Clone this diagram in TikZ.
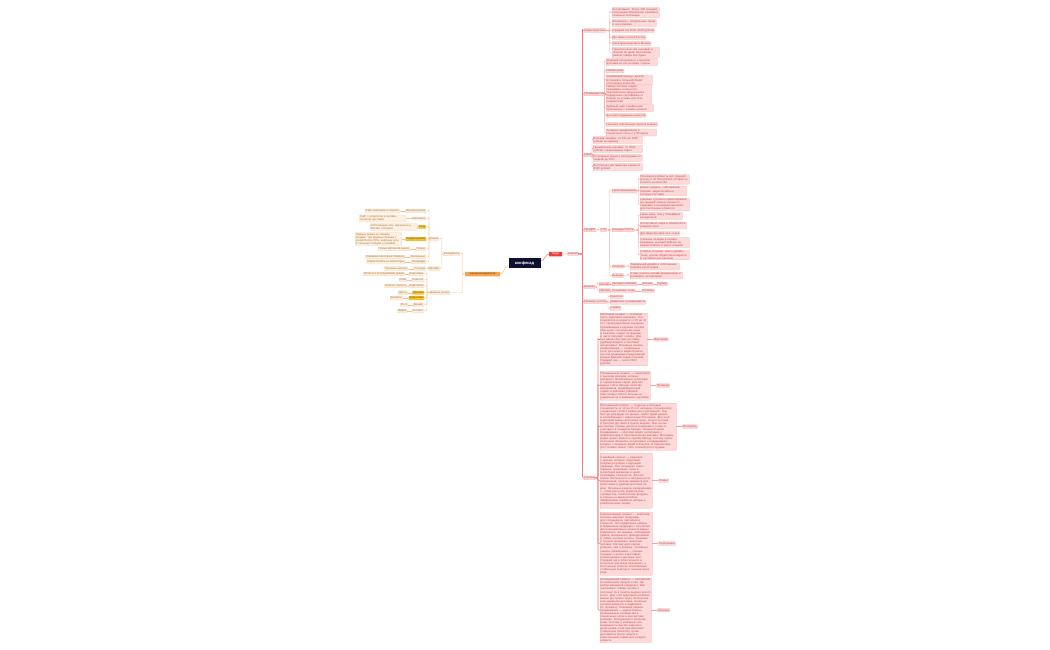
\documentclass[tikz,border=0pt]{standalone}
\usepackage{fontspec}
\setmainfont{Liberation Sans}
\usetikzlibrary{calc}
\definecolor{cRfill}{HTML}{FCDADA}
\definecolor{cRdraw}{HTML}{F2AAAA}
\definecolor{cRtext}{HTML}{C8484A}
\definecolor{cRline}{HTML}{F3A3A3}
\definecolor{cRtrunk}{HTML}{EE7B7B}
\definecolor{cLfill}{HTML}{FDF0E1}
\definecolor{cLdraw}{HTML}{F3CFA8}
\definecolor{cLtext}{HTML}{A8743F}
\definecolor{cLline}{HTML}{F0C491}
\definecolor{cGfill}{HTML}{F7C433}
\definecolor{cGdraw}{HTML}{ECB020}
\definecolor{cGtext}{HTML}{7A4E0E}
\definecolor{cCenter}{HTML}{0E1030}
\definecolor{cOrange}{HTML}{F6A54F}
\definecolor{cOtext}{HTML}{5A3312}
\definecolor{cRed}{HTML}{F23D3D}
\newcommand\rlink[3][2]{\draw[rl] (#2.east) -| ($(#3.west)+(-#1,0)$) |- (#3.west);}
\newcommand\tlink[3][2]{\draw[rt] (#2.east) -| ($(#3.west)+(-#1,0)$) |- (#3.west);}
\newcommand\llink[3][2]{\draw[ll] (#2.west) -| ($(#3.east)+(#1,0)$) |- (#3.east);}
\begin{document}
\begin{tikzpicture}[x=1pt,y=-1pt,
 base/.style={inner sep=0.6pt, rounded corners=0.4pt, line width=0.25pt, font=\fontsize{2.8}{3.05}\selectfont},
 rn/.style={base, fill=cRfill, draw=cRdraw, text=cRtext},
 rb/.style={rn, text width=#1pt, align=left},
 ln/.style={base, fill=cLfill, draw=cLdraw, text=cLtext},
 lb/.style={ln, text width=#1pt, align=left},
 gn/.style={base, fill=cGfill, draw=cGdraw, text=cGtext},
 rl/.style={draw=cRline, line width=0.4pt, rounded corners=1pt},
 rt/.style={draw=cRtrunk, line width=0.6pt, rounded corners=1pt},
 ll/.style={draw=cLline, line width=0.4pt, rounded corners=1pt}]
\fill[white] (0,0) rectangle (1050,650);
\useasboundingbox (0,0) rectangle (1050,650);

% ---- centre ----
\node[fill=cCenter, text=white, font=\fontsize{4}{5}\selectfont\bfseries, minimum width=32pt, minimum height=10pt, inner sep=0.5pt] (cen) at (524.5,263) {конфесад};
\node[fill=cOrange, text=cOtext, font=\fontsize{2.8}{3}\selectfont, minimum width=35pt, minimum height=4.5pt, inner sep=0.5pt, rounded corners=0.4pt] (orn) at (482.5,274) {оценка конкурентов};
\node[fill=cRed, text=white, font=\fontsize{2.8}{3}\selectfont, minimum width=13pt, minimum height=4.5pt, inner sep=0.5pt, rounded corners=0.4pt] (tgt) at (555.5,254) {Target};
\node[rn, anchor=west] (an) at (567.5,253.8) {Анализ};

% ---- left side ----
\node[ln, anchor=east] (la) at (460,254) {Конкуренты};
\node[ln, anchor=east] (lb) at (450,292.7) {Данные рынка};
\node[ln, anchor=east] (la1) at (439,239) {Рынок};
\node[ln, anchor=east] (la2) at (440,268.7) {Офлайн};

\node[ln,anchor=east] (r1) at (426,211) {Бренды рынка};
\node[ln,anchor=east] (r2) at (426,218.5) {Магазины};
\node[gn,anchor=east] (r3) at (426,227) {Сеть};
\node[gn,anchor=east] (r4) at (426,239) {Лидеры рынка};
\node[ln,anchor=east] (r5) at (426,249) {Новые};
\node[ln,anchor=east] (r6) at (426,257) {Косвенные};
\node[ln,anchor=east] (r7) at (426,262) {Площадки};
\node[ln,anchor=east] (r8) at (426,268.7) {Розница};
\node[ln,anchor=east] (q1) at (424,274) {Аналитика};
\node[ln,anchor=east] (q2) at (424,280) {Новости};
\node[ln,anchor=east] (q3) at (424,286) {Аудитория};
\node[gn,anchor=east] (q4) at (424,292.7) {Логотип};
\node[gn,anchor=east] (q5) at (424,298) {Айдентика};
\node[ln,anchor=east] (q6) at (424,304.7) {Дизайн};
\node[ln,anchor=east] (q7) at (424,311) {Контент};

\node[ln,anchor=east] (r1t) at ([xshift=-6pt]r1.west) {Сайт компании и соцсети};
\node[lb=45,anchor=east] (r2t) at ([xshift=-6pt]r2.west) {Сайт с каталогом и онлайн-оплатой, доставка};
\node[lb=46,anchor=east] (r3t) at ([xshift=-1pt]r3.west) {Собственная сеть магазинов в Москве и Казани};
\node[lb=45,anchor=east] (r4t) at ([xshift=-4pt]r4.west) {Лидеры рынка по объёму продаж: три крупных бренда с долей более 60\%, широкая сеть и сильные позиции в онлайне};
\node[ln,anchor=east] (r5t) at ([xshift=-6pt]r5.west) {Новые игроки на рынке};
\node[ln,anchor=east] (r6t) at ([xshift=-6pt]r6.west) {Смежные категории товаров};
\node[ln,anchor=east] (r7t) at ([xshift=-6pt]r7.west) {Маркетплейсы и агрегаторы};
\node[ln,anchor=east] (r8t) at ([xshift=-6pt]r8.west) {Торговые центры};
\node[ln,anchor=east] (q1t) at ([xshift=-4pt]q1.west) {Отчёты и исследования рынка};
\node[ln,anchor=east] (q2t) at ([xshift=-5pt]q2.west) {СМИ};
\node[ln,anchor=east] (q3t) at ([xshift=-2pt]q3.west) {Анкеты, опросы};
\node[ln,anchor=east] (q4t) at ([xshift=-5pt]q4.west) {Цвета};
\node[ln,anchor=east] (q5t) at ([xshift=-6pt]q5.west) {Шрифты};
\node[ln,anchor=east] (q6t) at ([xshift=-5pt]q6.west) {Фото};
\node[ln,anchor=east] (q7t) at ([xshift=-5pt]q7.west) {Видео};

% ---- right side : level 1 ----
\node[rn,anchor=west] (ch) at (584,30.5) {Характеристики};
\node[rn,anchor=west] (pr) at (584,94) {Преимущества};
\node[rn,anchor=west] (ce) at (584,155) {Цена};
\node[rn,anchor=west] (pd) at (584,230) {Продукт};
\node[rn,anchor=west] (ka) at (584,287) {Каналы};
\node[rn,anchor=west] (pu) at (584,301.7) {Причины успеха};

% Характеристики
\node[rb=46,anchor=west] (ch1) at (612,12.5) {Ассортимент: более 200 позиций, постоянное обновление линейки и сезонные коллекции};
\node[rb=43,anchor=west] (ch2) at (612,23) {Материалы: натуральные ткани и эко-упаковка};
\node[rn,anchor=west] (ch3) at (612,30.5) {Средний чек 2500–3000 рублей};
\node[rn,anchor=west] (ch4) at (612,37.5) {Доставка по всей России};
\node[rn,anchor=west] (ch5) at (612,43.5) {Своё производство в Москве};
\node[rb=46,anchor=west] (ch6) at (612,52.5) {Гарантия качества и возврат в течение 30 дней, бесплатная замена товара при браке};

% Преимущества
\node[rb=50,anchor=west] (p1) at (606,62) {Широкий ассортимент и быстрая доставка во все регионы страны};
\node[rn,anchor=west] (p2) at (606,71) {Низкие цены};
\node[rb=45,anchor=west] (p3) at (606,80) {Узнаваемый бренд с долгой историей и большой базой постоянных клиентов};
\node[rb=44,anchor=west] (p4) at (606,94.5) {Гибкая система скидок, программа лояльности, персональные предложения, подарочные сертификаты и бонусы за отзывы для всех покупателей};
\node[rb=46,anchor=west] (p5) at (606,108) {Удобный сайт и мобильное приложение с онлайн-оплатой};
\node[rn,anchor=west] (p6) at (606,115.5) {Быстрая поддержка клиентов};
\node[rn,anchor=west] (p7) at (606,124.5) {Наличие собственных пунктов выдачи};
\node[rb=49,anchor=west] (p8) at (606,132.5) {Активное продвижение в социальных сетях и у блогеров};

% Цена
\node[rb=48,anchor=west] (e1) at (593,140) {Базовая линейка: от 990 до 1990 рублей за единицу};
\node[rb=48,anchor=west] (e2) at (593,149) {Премиальная линейка: от 3500 рублей, ограниченные серии};
\node[rb=48,anchor=west] (e3) at (593,158) {Регулярные акции и распродажи со скидкой до 50\%};
\node[rb=48,anchor=west] (e4) at (593,167) {Бесплатная доставка при заказе от 3000 рублей};

% Продукт
\node[rn,anchor=west] (ut) at (600,230) {УТП};
\node[rn,anchor=west] (z0) at (612,191) {Ценообразование};
\node[rn,anchor=west] (k0) at (612,230) {Конкурентность};
\node[rn,anchor=west] (o0) at (612,266.5) {Отличия};
\node[rn,anchor=west] (w0) at (612,275.5) {Выводы};
\node[rb=48,anchor=west] (z1) at (640,179.5) {Платежеспособность ЦА: средний доход от 40 000 рублей, готовность платить за качество};
\node[rb=45,anchor=west] (z2) at (640,191) {Бизнес-модель: собственный магазин, маркетплейсы и оптовые поставки};
\node[rb=48,anchor=west] (z3) at (640,204.5) {Ценовая стратегия ориентирована на средний сегмент рынка со скидками и спецпредложениями для постоянных клиентов};
\node[rb=41,anchor=west] (k1) at (640,216) {Цены ниже, чем у ближайших конкурентов};
\node[rb=45,anchor=west] (k2) at (640,225.5) {Ассортимент шире и обновляется каждый сезон};
\node[rn,anchor=west] (k3) at (640,233.5) {Доставка быстрее на 1–2 дня};
\node[rb=48,anchor=west] (k4) at (640,242.5) {Сильные позиции в онлайн-продажах, высокий рейтинг на маркетплейсах и много отзывов};
\node[rb=48,anchor=west] (k5) at (640,255) {Слабые стороны: мало офлайн-точек, долгая обработка возвратов и нестабильное наличие};
\node[rb=48,anchor=west] (o1) at (630,266.5) {Уникальный дизайн и собственная линейка аксессуаров};
\node[rb=51,anchor=west] (w1) at (630,275.5) {Стоит усилить онлайн-продвижение и расширить ассортимент};

% Каналы
\node[rn,anchor=west] (c1) at (599,284) {Онлайн};
\node[rn,anchor=west] (c1b) at (612,284) {Интернет-магазин};
\node[rn,anchor=west] (c1c) at (642,284) {Москва};
\node[rn,anchor=west] (c1d) at (657,284) {Курьер};
\node[rn,anchor=west] (c2) at (599,290.7) {Офлайн};
\node[rn,anchor=west] (c2b) at (612,290.7) {Розничные точки};
\node[rn,anchor=west] (c2c) at (642,290.7) {Регионы};

% Причины успеха
\node[rn,anchor=west] (u1) at (610,296.7) {Качество};
\node[rn,anchor=west] (u2) at (610,302.3) {Маркетинг и узнаваемость};
\node[rn,anchor=west] (u3) at (610,308.3) {Сервис};

% Сегменты
\node[rb=46,anchor=north west,minimum height=50pt] (b1) at (600,313) {Массовый сегмент — основная часть аудитории компании. Это покупатели в возрасте от 25 до 45 лет, преимущественно женщины, проживающие в крупных городах. Они ценят соотношение цены и качества, следят за акциями и часто покупают онлайн. Для них важны быстрая доставка, удобный возврат и понятный ассортимент. Основные каналы коммуникации — социальные сети, рассылки и маркетплейсы, где они сравнивают предложения разных брендов перед покупкой. Средний чек — около 2500 рублей.};
\node[rb=49,anchor=north west,minimum height=29pt] (b2) at (600,371) {Премиальный сегмент — покупатели с высоким доходом, которые выбирают эксклюзивные коллекции и ограниченные серии. Для них важны статус бренда, качество материалов, индивидуальный сервис и красивая упаковка. Они готовы платить больше за уникальность и внимание к деталям.};
\node[rb=75,anchor=north west,minimum height=47pt] (b3) at (600,403) {Молодёжный сегмент — студенты и молодые специалисты от 18 до 25 лет, активные пользователи социальных сетей и мобильных приложений. Они быстро реагируют на тренды, любят яркий дизайн и коллаборации с известными блогерами. Для этой аудитории важны доступные цены, оплата частями и быстрая доставка в пункты выдачи. Они охотно оставляют отзывы, делятся покупками в сторис и участвуют в конкурсах бренда. Основной канал продвижения — короткие видео, интеграции у инфлюенсеров и таргетированная реклама. Молодёжь редко хранит верность одному бренду, поэтому нужно постоянно обновлять ассортимент и поддерживать интерес с помощью акций и бонусов. В перспективе этот сегмент может стать основой роста продаж.};
\node[rb=51,anchor=north west,minimum height=55pt] (b4) at (600,453) {Семейный сегмент — родители с детьми, которые совершают покупки регулярно и крупными заказами. Они планируют траты заранее, сравнивают цены в нескольких магазинах и ценят программы лояльности. Для них важны безопасность и натуральность материалов, наличие размеров для всей семьи и удобная доставка на дом. Основные каналы коммуникации — email-рассылки, родительские сообщества, тематические форумы и отзывы на маркетплейсах. Эффективны семейные наборы и накопительные скидки.};
\node[rb=51,anchor=north west,minimum height=63pt] (b5) at (600,512) {Корпоративный сегмент — компании, которые закупают продукцию для сотрудников, партнёров и клиентов. Это подарочные наборы и фирменная продукция с логотипом. Для корпоративных клиентов важны надёжность поставщика, соблюдение сроков, возможность брендирования и гибкие условия оплаты. Решение о покупке принимает несколько человек, поэтому цикл сделки длиннее, чем в рознице. Основные каналы привлечения — личные продажи, участие в выставках, рекомендации и деловые сети. Средний чек в этом сегменте в несколько раз выше розничного, а постоянные клиенты обеспечивают стабильную выручку в течение всего года.};
\node[rb=50,anchor=north west,minimum height=63pt] (b6) at (600,578) {Региональный сегмент — покупатели из небольших городов и сёл, где выбор магазинов ограничен. Они заказывают товары онлайн и получают их в пунктах выдачи или по почте. Для этой аудитории особенно важны доступные цены, бесплатная или недорогая доставка, понятные условия возврата и поддержка по телефону. Основные каналы продвижения — маркетплейсы, региональные сообщества в социальных сетях и контекстная реклама. Конкуренция в регионах ниже, поэтому у компании есть возможность быстро нарастить долю рынка, если она обеспечит стабильную логистику, сроки доставки не более недели и качественный сервис для каждого клиента.};
\coordinate (sm) at ($(b1.north west)!0.5!(b6.south west)$);
\node[rn,anchor=west] (se) at ([xshift=-16pt]sm) {Группы};
\node[rn,anchor=west] (s1) at ([xshift=6pt]b1.east) {Массовый};
\node[rn,anchor=west] (s2) at ([xshift=6pt]b2.east) {Премиум};
\node[rn,anchor=west] (s3) at ([xshift=6pt]b3.east) {Молодёжь};
\node[rn,anchor=west] (s4) at ([xshift=6pt]b4.east) {Семьи};
\node[rn,anchor=west] (s5) at ([xshift=6pt]b5.east) {Корпорации};
\node[rn,anchor=west] (s6) at ([xshift=6pt]b6.east) {Регионы};

% ---- connectors ----
\draw[draw=cOrange!80, line width=0.5pt] ([yshift=-3pt]cen.west) .. controls +(-4,0) and +(4,0) .. (orn.east);
\draw[draw=cRed!70, line width=0.5pt] ([yshift=2pt]cen.east) .. controls +(4,0) and +(-4,0) .. (tgt.west);
\draw[rl] (tgt.east) -- (an.west);

\llink[2.5]{orn}{la}
\llink[12.5]{orn}{lb}
\llink[2.5]{la}{la1}
\llink[1.5]{la}{la2}
\foreach \n in {r1,r2,r3,r4,r5,r6,r7}{\llink[3]{la1}{\n}}
\llink[3]{la2}{r8}
\foreach \n in {q1,q2,q3,q4,q5,q6,q7}{\llink[3]{lb}{\n}}
\foreach \n in {r1,r2,r3,r4,r5,r6,r7,r8,q1,q2,q3,q4,q5,q6,q7}{\draw[ll] (\n.west) -- (\n t.east);}

\foreach \n in {ch,pr,ce,pd,ka,pu,se}{\tlink[1.5]{an}{\n}}
\foreach \n in {ch1,ch2,ch3,ch4,ch5,ch6}{\rlink[2.5]{ch}{\n}}
\foreach \n in {p1,p2,p3,p4,p5,p6,p7,p8}{\rlink[1.5]{pr}{\n}}
\foreach \n in {e1,e2,e3,e4}{\rlink[1]{ce}{\n}}
\rlink[2]{pd}{ut}
\foreach \n in {z0,k0,o0,w0}{\rlink[2.5]{ut}{\n}}
\foreach \n in {z1,z2,z3}{\rlink[1.5]{z0}{\n}}
\foreach \n in {k1,k2,k3,k4,k5}{\rlink[1.5]{k0}{\n}}
\rlink[2]{o0}{o1}
\rlink[2]{w0}{w1}
\rlink[2]{ka}{c1}
\rlink[2]{ka}{c2}
\draw[rl] (c1.east) -- (c1b.west);
\draw[rl] (c1b.east) -- (c1c.west);
\draw[rl] (c1c.east) -- (c1d.west);
\draw[rl] (c2.east) -- (c2b.west);
\draw[rl] (c2b.east) -- (c2c.west);
\foreach \n in {u1,u2,u3}{\rlink[2]{pu}{\n}}
\foreach \n in {b1,b2,b3,b4,b5,b6}{\tlink[2]{se}{\n}}
\foreach \n/\m in {b1/s1,b2/s2,b3/s3,b4/s4,b5/s5,b6/s6}{\draw[rl] (\n.east) -- (\m.west);}
\end{tikzpicture}
\end{document}
